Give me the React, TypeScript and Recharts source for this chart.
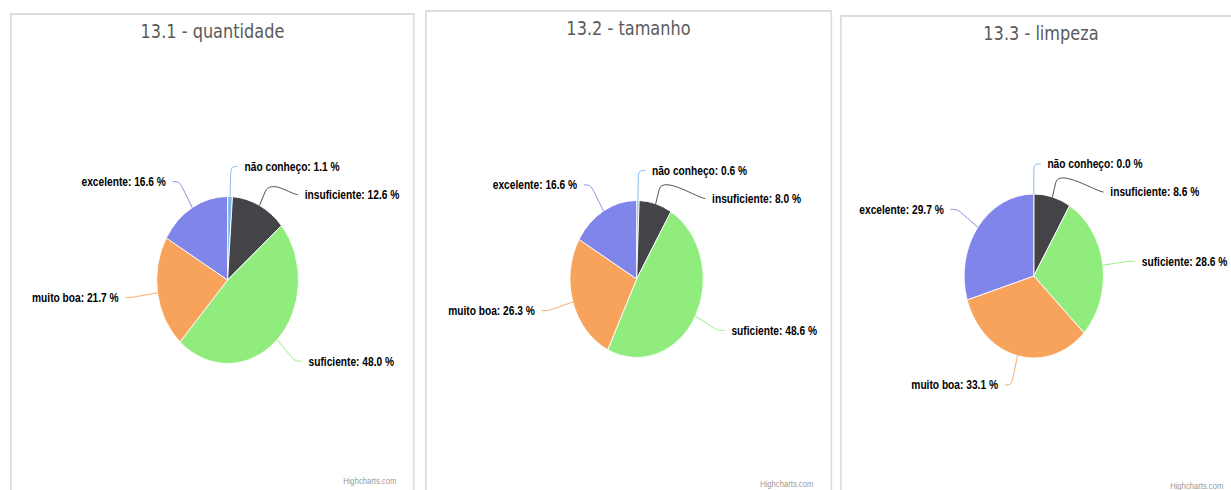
import { PieChart, Pie, Cell } from "recharts";

// the screenshot is squeezed horizontally, so every panel is drawn wider and scaled back
const SQUEEZE = 0.85;

const categories = ["não conheço", "insuficiente", "suficiente", "muito boa", "excelente"];
const colors = ["#7cb5ec", "#434348", "#90ed7d", "#f7a35c", "#8085e9"];

const quantidade = [1.1, 12.6, 48.0, 21.7, 16.6];
const tamanho = [0.6, 8.0, 48.6, 26.3, 16.6];
const limpeza = [0.0, 8.6, 28.6, 33.1, 29.7];

const titles = ["13.1 - quantidade", "13.2 - tamanho", "13.3 - limpeza"];

const panels = [
  { title: titles[0], values: quantidade, left: 10, top: 13, width: 405, cx: 254, cy: 265, r: 83.5, creditY: 482 },
  { title: titles[1], values: tamanho, left: 425, top: 10, width: 407, cx: 247, cy: 267, r: 78.5, creditY: 485 },
  { title: titles[2], values: limpeza, left: 840, top: 15, width: 402, cx: 226, cy: 259, r: 82, creditY: 487 },
];

const DIST = 30;
const GAP = 28;

type LabelPos = { right: boolean; y: number };

function layoutLabels(values: number[], cy: number, r: number): LabelPos[] {
  const total = values.reduce((a, b) => a + b, 0);
  let acc = 0;
  const items = values.map((v) => {
    const mid = ((acc + v / 2) / total) * 360;
    acc += v;
    return { right: mid < 180, y: cy - (r + DIST) * Math.cos((mid * Math.PI) / 180) };
  });
  [true, false].forEach((side) => {
    const group = items.filter((it) => it.right === side).sort((a, b) => a.y - b.y);
    for (let k = 1; k < group.length; k++) {
      if (group[k].y < group[k - 1].y + GAP) group[k].y = group[k - 1].y + GAP;
    }
  });
  return items;
}

function makeLabel(values: number[], layout: LabelPos[]) {
  return (props: any) => {
    const { cx, cy, outerRadius, midAngle, index } = props;
    const pos = layout[index];
    const rad = (-midAngle * Math.PI) / 180;
    const ex = cx + outerRadius * Math.cos(rad);
    const ey = cy + outerRadius * Math.sin(rad);
    const bx = cx + (outerRadius + DIST / 2) * Math.cos(rad);
    const by = cy + (outerRadius + DIST / 2) * Math.sin(rad);
    const side = pos.right ? 1 : -1;
    const R = outerRadius + DIST;
    const dy = pos.y - cy;
    const x = cx + side * Math.sqrt(Math.max(0, R * R - dy * dy));
    const d = `M${x + side * 8},${pos.y} C${x},${pos.y} ${2 * bx - ex},${2 * by - ey} ${bx},${by} L${ex},${ey}`;
    return (
      <g key={`lbl-${index}`}>
        <path d={d} stroke={colors[index]} strokeWidth={1} fill="none" />
        <text
          x={x + side * 16}
          y={pos.y}
          textAnchor={side > 0 ? "start" : "end"}
          dominantBaseline="central"
          fontFamily="'Liberation Sans', Arial, sans-serif"
          fontSize={12}
          fontWeight="bold"
          fill="#000"
        >
          {`${categories[index]}: ${values[index].toFixed(1)} %`}
        </text>
      </g>
    );
  };
}

function PiePanel({ p }: { p: (typeof panels)[number] }) {
  const w = p.width / SQUEEZE;
  const h = 490 - p.top + 12;
  const data = categories.map((name, i) => ({ name, value: p.values[i] }));
  const layout = layoutLabels(p.values, p.cy, p.r);
  return (
    <div
      style={{
        position: "absolute",
        left: p.left,
        top: p.top,
        width: w,
        height: h,
        transform: `scaleX(${SQUEEZE})`,
        transformOrigin: "0 0",
        border: "2px solid #dddddd",
        boxSizing: "border-box",
        background: "#fff",
      }}
    >
      <div
        style={{
          position: "absolute",
          top: 4,
          left: 0,
          width: "100%",
          textAlign: "center",
          fontFamily: "'DejaVu Sans', sans-serif",
          fontSize: 19,
          lineHeight: "24px",
          color: "#5a5a5a",
        }}
      >
        {p.title}
      </div>
      <PieChart width={w - 4} height={h - 4} margin={{ top: 0, right: 0, bottom: 0, left: 0 }}>
        <Pie
          data={data}
          dataKey="value"
          nameKey="name"
          cx={p.cx}
          cy={p.cy}
          outerRadius={p.r}
          startAngle={90}
          endAngle={-270}
          stroke="#fff"
          strokeWidth={1}
          label={makeLabel(p.values, layout)}
          labelLine={false}
          isAnimationActive={false}
        >
          {data.map((_, i) => (
            <Cell key={i} fill={colors[i]} />
          ))}
        </Pie>
      </PieChart>
      <div
        style={{
          position: "absolute",
          top: p.creditY - p.top - 8,
          right: 20,
          fontFamily: "'Liberation Sans', Arial, sans-serif",
          fontSize: 9,
          color: "#999",
        }}
      >
        Highcharts.com
      </div>
    </div>
  );
}

export default function App() {
  return (
    <div
      style={{
        position: "absolute",
        left: 0,
        top: 0,
        width: 1231,
        height: 490,
        overflow: "hidden",
        background: "#fff",
      }}
    >
      {panels.map((p) => (
        <PiePanel key={p.title} p={p} />
      ))}
    </div>
  );
}
